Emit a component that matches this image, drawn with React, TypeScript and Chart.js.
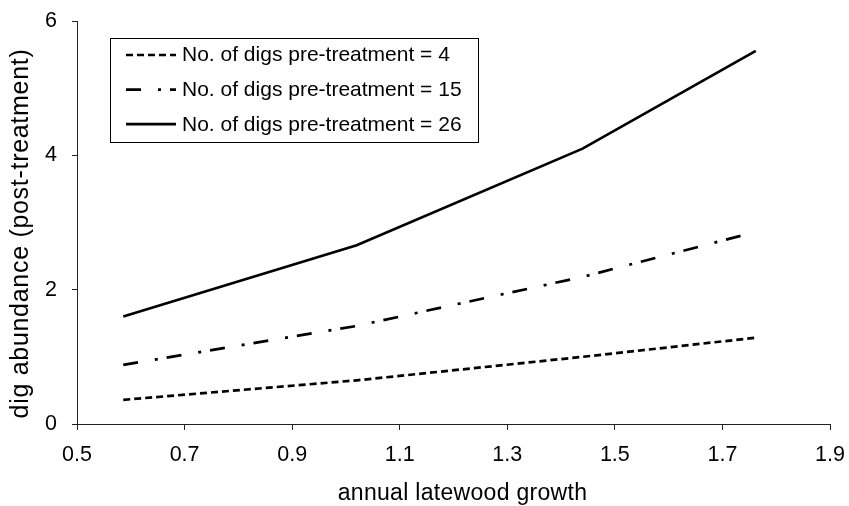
import React, { useEffect, useRef } from 'react';
import { Chart, registerables } from 'chart.js';

Chart.register(...registerables);

// ---- data ----
const growth = [0.586, 1.02, 1.44, 1.762];
const digs4 = [0.36, 0.65, 1.0, 1.285];
const digs15 = [0.88, 1.46, 2.19, 2.86];
const digs26 = [1.6, 2.66, 4.1, 5.555];
const seriesLabels = [
  'No. of digs pre-treatment = 4',
  'No. of digs pre-treatment = 15',
  'No. of digs pre-treatment = 26',
];
const xTicks = [0.5, 0.7, 0.9, 1.1, 1.3, 1.5, 1.7, 1.9];
const yTicks = [0, 2, 4, 6];
const xTitle = 'annual latewood growth';
const yTitle = 'dig abundance (post-treatment)';

const FONT = '"Liberation Sans", Arial, Helvetica, sans-serif';

const toPoints = (ys: number[]) => growth.map((x, i) => ({ x, y: ys[i] }));

const boxLegend = {
  id: 'boxLegend',
  afterDraw(chart: any) {
    const ctx: any = chart.ctx;
    const bx = 110, by = 38, bw = 368, bh = 104;
    ctx.save();
    ctx.fillStyle = '#ffffff';
    ctx.fillRect(bx, by, bw, bh);
    ctx.strokeStyle = '#000000';
    ctx.lineWidth = 1;
    ctx.setLineDash([]);
    ctx.strokeRect(bx + 0.5, by + 0.5, bw, bh);
    ctx.font = `21px ${FONT}`;
    ctx.textBaseline = 'alphabetic';
    ctx.textAlign = 'left';
    chart.data.datasets.forEach((ds: any, i: number) => {
      const ly = 55 + i * 34.6;
      ctx.beginPath();
      ctx.setLineDash(ds.borderDash || []);
      ctx.lineWidth = ds.borderWidth;
      ctx.strokeStyle = ds.borderColor;
      ctx.moveTo(126, ly);
      ctx.lineTo(176, ly);
      ctx.stroke();
      ctx.setLineDash([]);
      ctx.fillStyle = '#000000';
      ctx.fillText(ds.label, 182, ly + 6.3);
    });
    ctx.restore();
  },
};

const axisTitles = {
  id: 'axisTitles',
  afterDraw(chart: any) {
    const ctx: any = chart.ctx;
    ctx.save();
    ctx.fillStyle = '#000000';
    ctx.textBaseline = 'alphabetic';
    ctx.textAlign = 'center';
    // x title
    ctx.font = `23px ${FONT}`;
    ctx.letterSpacing = '0.3px';
    ctx.fillText(xTitle, 462.5, 500);
    // y title
    ctx.font = `25px ${FONT}`;
    ctx.letterSpacing = '0.7px';
    ctx.translate(28, 233.5);
    ctx.rotate(-Math.PI / 2);
    ctx.fillText(yTitle, 0, 0);
    ctx.restore();
  },
};

export default function App() {
  const canvasRef = useRef<HTMLCanvasElement | null>(null);

  useEffect(() => {
    const canvas = canvasRef.current;
    if (!canvas) return;
    const chart = new Chart(canvas, {
      type: 'line',
      data: {
        datasets: [
          {
            label: seriesLabels[0],
            data: toPoints(digs4),
            borderColor: '#000000',
            borderWidth: 2.7,
            borderDash: [7, 4],
            pointRadius: 0,
            fill: false,
            tension: 0,
          },
          {
            label: seriesLabels[1],
            data: toPoints(digs15),
            borderColor: '#000000',
            borderWidth: 2.7,
            borderDash: [15, 17, 3, 9],
            pointRadius: 0,
            fill: false,
            tension: 0,
          },
          {
            label: seriesLabels[2],
            data: toPoints(digs26),
            borderColor: '#000000',
            borderWidth: 2.7,
            pointRadius: 0,
            fill: false,
            tension: 0,
          },
        ],
      },
      options: {
        animation: false,
        responsive: false,
        maintainAspectRatio: false,
        layout: { padding: { top: 21, right: 19, left: 0, bottom: 0 } },
        plugins: {
          legend: { display: false },
          tooltip: { enabled: false },
        },
        scales: {
          x: {
            type: 'linear',
            min: 0.5,
            max: 1.9,
            afterBuildTicks: (s: any) => {
              s.ticks = xTicks.map((v) => ({ value: v }));
            },
            afterFit: (s: any) => {
              s.height = 82;
              s.paddingLeft = 0;
              s.paddingRight = 0;
              s.paddingTop = 0;
              s.paddingBottom = 0;
            },
            grid: {
              drawOnChartArea: false,
              drawTicks: true,
              tickLength: 6,
              tickColor: '#222222',
              tickWidth: 1,
            },
            border: { display: true, color: '#222222', width: 1 },
            ticks: {
              color: '#000000',
              font: { family: FONT, size: 21.5 },
              padding: 12,
              maxRotation: 0,
              autoSkip: false,
              callback: (v: any) => Number(v).toFixed(1),
            },
            title: { display: false, text: xTitle },
          },
          y: {
            type: 'linear',
            min: 0,
            max: 6,
            afterBuildTicks: (s: any) => {
              s.ticks = yTicks.map((v) => ({ value: v }));
            },
            afterFit: (s: any) => {
              s.width = 77;
              s.paddingLeft = 0;
              s.paddingRight = 0;
              s.paddingTop = 0;
              s.paddingBottom = 0;
            },
            grid: {
              drawOnChartArea: false,
              drawTicks: true,
              tickLength: 5,
              tickColor: '#222222',
              tickWidth: 1,
            },
            border: { display: true, color: '#222222', width: 1 },
            ticks: {
              color: '#000000',
              font: { family: FONT, size: 21.5 },
              padding: 15,
              autoSkip: false,
              callback: (v: any) => String(v),
            },
            title: { display: false, text: yTitle },
          },
        },
      },
      plugins: [boxLegend, axisTitles],
    });
    return () => chart.destroy();
  }, []);

  return (
    <div style={{ position: 'fixed', left: 0, top: 0, width: 849, height: 506, background: '#ffffff' }}>
      <canvas ref={canvasRef} width={849} height={506} style={{ width: 849, height: 506, display: 'block' }} />
    </div>
  );
}
